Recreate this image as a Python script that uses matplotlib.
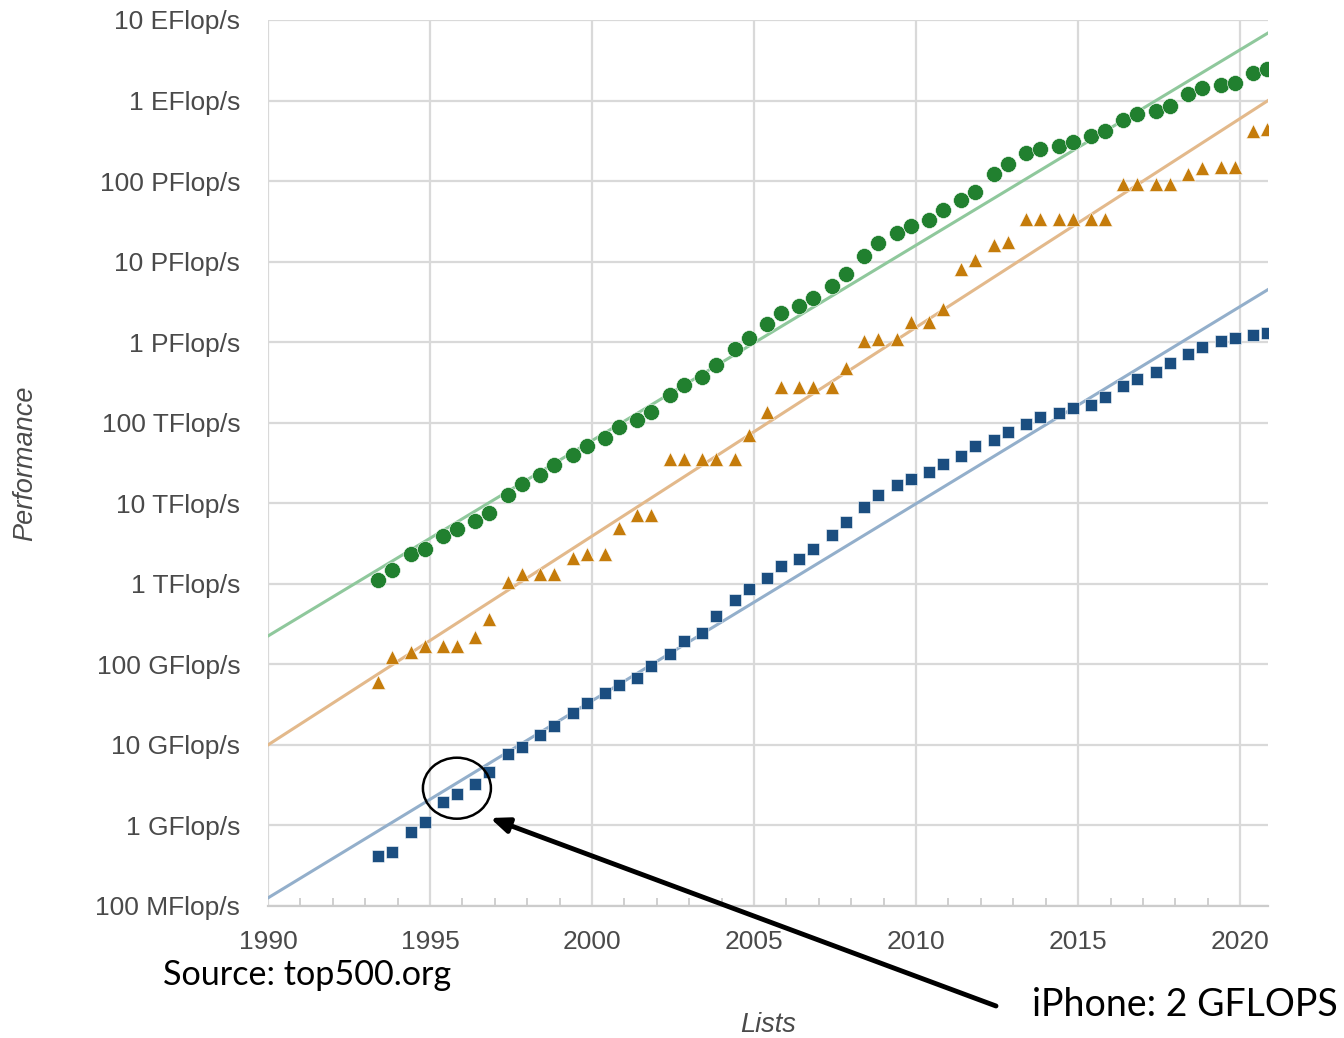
import matplotlib
matplotlib.use("Agg")
import matplotlib.pyplot as plt
from matplotlib.patches import Ellipse
from matplotlib.ticker import FixedLocator, MultipleLocator
import numpy as np

# TOP500 lists, June and November of each year (1993-2020)
years = np.arange(1993, 2021)
list_dates = np.ravel(np.column_stack([years + 0.40, years + 0.83]))

# Rmax in GFlop/s
sum_gflops = [
    1128, 1493, 2317, 2732, 3926, 4784, 5977, 7669, 12710, 17200,
    22540, 29570, 39790, 51040, 64340, 88010, 108600, 134400, 222500, 292800,
    374700, 527000, 812300, 1127000, 1690000, 2301000, 2788000, 3530000, 4922000, 6965000,
    11720000, 16950000, 22600000, 27950000, 32430000, 43670000, 58880000, 74150000, 123400000, 162000000,
    223000000, 250000000, 274000000, 309000000, 361000000, 420000000, 566700000, 672000000, 749000000, 845000000,
    1220000000, 1414000000, 1559000000, 1650000000, 2220000000, 2430000000,
]
n1_gflops = [
    59.7, 124, 143.4, 170, 170, 170, 220.4, 368.2, 1068, 1338,
    1338, 1338, 2121, 2379, 2379, 4938, 7226, 7226, 35860, 35860,
    35860, 35860, 35860, 70720, 136800, 280600, 280600, 280600, 280600, 478200,
    1026000, 1105000, 1105000, 1759000, 1759000, 2566000, 8162000, 10510000, 16320000, 17590000,
    33860000, 33860000, 33860000, 33860000, 33860000, 33860000, 93010000, 93010000, 93010000, 93010000,
    122300000, 143500000, 148600000, 148600000, 415500000, 442000000,
]
n500_gflops = [
    0.422, 0.472, 0.822, 1.114, 1.955, 2.489, 3.306, 4.62, 7.67, 9.513,
    13.39, 17.12, 24.73, 33.05, 43.82, 55.1, 67.78, 94.3, 134.3, 195.8,
    245.1, 403.4, 624, 850.6, 1166, 1646, 2026, 2737, 4005, 5929,
    9000, 12640, 17100, 20050, 24670, 31120, 39090, 50940, 60820, 76500,
    96620, 117800, 133700, 153400, 164700, 206300, 285900, 349300, 432200, 548700,
    715600, 874800, 1022000, 1142000, 1228000, 1317000,
]

# exponential trend lines, Flop/s at 1990 and at the right edge
trend_x = [1990, 2020.86]
sum_trend = [2.25e11, 6.9e18]
n1_trend = [1.0e10, 1.0e18]
n500_trend = [1.26e8, 4.5e15]

y_ticks = [1e8, 1e9, 1e10, 1e11, 1e12, 1e13, 1e14, 1e15, 1e16, 1e17, 1e18, 1e19]
y_labels = ["100 MFlop/s", "1 GFlop/s", "10 GFlop/s", "100 GFlop/s", "1 TFlop/s",
            "10 TFlop/s", "100 TFlop/s", "1 PFlop/s", "10 PFlop/s", "100 PFlop/s",
            "1 EFlop/s", "10 EFlop/s"]

green, orange, blue = "#21802f", "#c57c0b", "#1b4e80"
label_grey = "#4a4a4a"
grid_grey = "#d9d9d9"

plt.rcParams["font.family"] = ["Liberation Sans", "DejaVu Sans"]

fig = plt.figure(figsize=(13.44, 10.38), dpi=100)
ax = fig.add_axes([268 / 1344, 1 - 906 / 1038, 1000 / 1344, 886 / 1038])

ax.plot(trend_x, sum_trend, color="#8fc89c", lw=2.2, zorder=2)
ax.plot(trend_x, n1_trend, color="#e3b98b", lw=2.2, zorder=2)
ax.plot(trend_x, n500_trend, color="#93afcb", lw=2.2, zorder=2)

to_flops = lambda v: np.array(v) * 1e9
ax.plot(list_dates, to_flops(sum_gflops), "o", color=green, ms=11.5,
        mec="white", mew=0.4, zorder=3)
ax.plot(list_dates, to_flops(n1_gflops), "^", color=orange, ms=10.5,
        mec="white", mew=0.4, zorder=3)
ax.plot(list_dates, to_flops(n500_gflops), "s", color=blue, ms=8,
        mec="white", mew=0.4, zorder=3)

ax.set_yscale("log")
ax.set_xlim(1990, 2020.86)
ax.set_ylim(1e8, 1e19)
ax.yaxis.set_major_locator(FixedLocator(y_ticks))
ax.yaxis.set_minor_locator(FixedLocator([]))
ax.set_yticklabels(y_labels)
ax.xaxis.set_major_locator(MultipleLocator(5))
ax.xaxis.set_minor_locator(MultipleLocator(1))

ax.grid(True, which="major", color=grid_grey, lw=1.6, zorder=0)
ax.set_axisbelow(True)
for side in ["top", "right", "left"]:
    ax.spines[side].set_visible(False)
ax.spines["bottom"].set_color("#cccccc")
ax.spines["bottom"].set_linewidth(1.6)

ax.tick_params(axis="both", which="major", length=0, labelsize=19, labelcolor=label_grey)
ax.tick_params(axis="y", pad=20)
ax.tick_params(axis="x", pad=17)
ax.tick_params(axis="x", which="minor", direction="in", length=6, width=1.3, color="#cccccc")

fig.text(25 / 1344, 1 - 463 / 1038, "Performance", rotation=90, style="italic",
         fontsize=19.5, color=label_grey, ha="center", va="center")
fig.text(768 / 1344, 1 - 1025 / 1038, "Lists", style="italic",
         fontsize=19.5, color=label_grey, ha="center", va="center")

# iPhone annotation: circle around the 1996 #500 entries and an arrow to the label
cx, cy = ax.transAxes.inverted().transform(ax.transData.transform((1995.83, 2.9e9)))
ax.add_patch(Ellipse((cx, cy), 68 / 1000, 61 / 886, transform=ax.transAxes,
                     fill=False, ec="black", lw=1.8, zorder=4, clip_on=False))
fig.add_artist(plt.Annotation(
    "", xy=(490, 1038 - 818), xycoords="figure pixels",
    xytext=(996, 1038 - 1006), textcoords="figure pixels",
    arrowprops=dict(arrowstyle="-|>,head_length=1.1,head_width=0.45",
                    lw=3.5, color="black", shrinkA=0, shrinkB=0)))

fig.text(163 / 1344, 1 - 975 / 1038, "Source: top500.org", family="Lato",
         fontsize=24.6, color="black", ha="left", va="center")
fig.text(1032 / 1344, 1 - 1005 / 1038, "iPhone: 2 GFLOPS", family="Lato",
         fontsize=27, color="black", ha="left", va="center")

fig.savefig("out.png", dpi=100)
